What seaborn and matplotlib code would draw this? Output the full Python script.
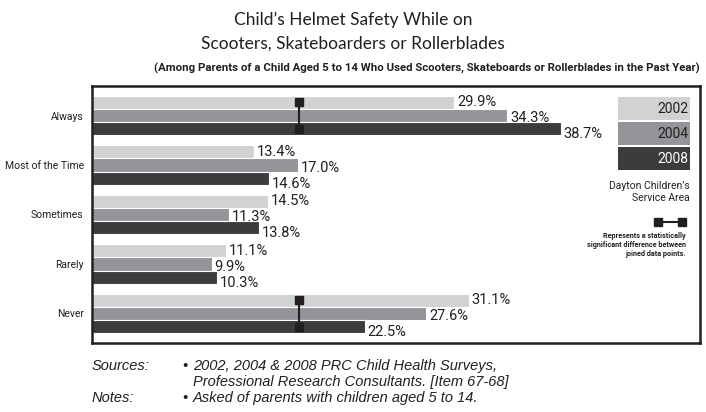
import matplotlib
matplotlib.use("Agg")
import matplotlib.pyplot as plt
from matplotlib.patches import Rectangle
import seaborn as sns
import pandas as pd

# Survey responses (% of parents)
categories = ["Always", "Most of the Time", "Sometimes", "Rarely", "Never"]
years = ["2002", "2004", "2008"]
values_2002 = [29.9, 13.4, 14.5, 11.1, 31.1]
values_2004 = [34.3, 17.0, 11.3, 9.9, 27.6]
values_2008 = [38.7, 14.6, 13.8, 10.3, 22.5]
# statistically significant differences: (category, year a, year b)
significant = [("Always", "2002", "2008"), ("Never", "2002", "2008")]
sig_marker_x = 17.1

colors = {"2002": "#d1d2d4", "2004": "#939598", "2008": "#3c3c3e"}
year_text_colors = {"2002": "#231f20", "2004": "#231f20", "2008": "white"}

rows = []
for yr, vals in zip(years, [values_2002, values_2004, values_2008]):
    for cat, v in zip(categories, vals):
        rows.append({"Category": cat, "Year": yr, "Value": v})
df = pd.DataFrame(rows)

sns.set_style("white")
plt.rcParams["font.family"] = ["Roboto", "DejaVu Sans"]
INK = "#231f20"

W, H = 706, 412
fig = plt.figure(figsize=(W / 100, H / 100), dpi=100)


def fx(px):
    return px / W


def fy(py):
    return 1 - py / H


ax = fig.add_axes([fx(92), fy(343), fx(700) - fx(92), fy(86) - fy(343)])

sns.barplot(data=df, x="Value", y="Category", hue="Year", order=categories,
            hue_order=years, palette=colors, orient="h", width=0.8,
            edgecolor="white", linewidth=0.8, saturation=1, ax=ax, legend=False)

ax.set_xlim(0, 50.2)
ax.set_ylim(4.6, -0.6)
ax.set_xlabel("")
ax.set_ylabel("")
ax.set_xticks([])
ax.tick_params(axis="y", length=0, pad=6)
for lbl in ax.get_yticklabels():
    lbl.set_fontsize(7.5)
    lbl.set_color(INK)
for sp in ax.spines.values():
    sp.set_visible(True)
    sp.set_color(INK)
    sp.set_linewidth(1.8)

# value labels
down = {"2002": 0, "2004": -2, "2008": -4}
bar_y = {}
for yr, cont in zip(years, ax.containers):
    for cat, bar in zip(categories, cont):
        v = bar.get_width()
        yc = bar.get_y() + bar.get_height() / 2
        bar_y[(cat, yr)] = yc
        ax.annotate(f"{v:.1f}%", (v, yc), xytext=(2, down[yr]),
                    textcoords="offset points", va="center", ha="left",
                    fontsize=10.5, color=INK)

# significance connectors
for cat, a, b in significant:
    ya, yb = bar_y[(cat, a)], bar_y[(cat, b)]
    ax.plot([sig_marker_x, sig_marker_x], [ya, yb], color=INK, lw=1.5,
            marker="s", markersize=6, zorder=5)

# legend boxes
box_tops = [97, 122, 147]
for yr, top in zip(years, box_tops):
    fig.patches.append(Rectangle((fx(618), fy(top + 23)), fx(690) - fx(618),
                                 fy(top) - fy(top + 23), transform=fig.transFigure,
                                 facecolor=colors[yr], edgecolor="none"))
    fig.text(fx(688), fy(top + 12), yr, ha="right", va="center",
             fontsize=10, color=year_text_colors[yr])

fig.text(fx(690), fy(186), "Dayton Children\u2019s", ha="right", va="center",
         fontsize=7.5, color=INK)
fig.text(fx(690), fy(198), "Service Area", ha="right", va="center",
         fontsize=7.5, color=INK)

# significance key
fig.lines.append(plt.Line2D([fx(658), fx(682)], [fy(222), fy(222)],
                            transform=fig.transFigure, color=INK, lw=1.5,
                            marker="s", markersize=6))
for i, line in enumerate(["Represents a statistically",
                          "significant difference between",
                          "joined data points."]):
    fig.text(fx(686), fy(236 + i * 9), line, ha="right", va="center",
             fontsize=5.2, fontweight="bold", color=INK)

# titles
title_font = dict(fontsize=12.5, family=["Lato", "DejaVu Sans"],
                  color=INK, ha="center", va="center")
fig.text(0.5, fy(20), "Child\u2019s Helmet Safety While on", **title_font)
fig.text(0.5, fy(44), "Scooters, Skateboarders or Rollerblades", **title_font)
fig.text(fx(427), fy(68), "(Among Parents of a Child Aged 5 to 14 Who Used Scooters, "
         "Skateboards or Rollerblades in the Past Year)", ha="center",
         va="center", fontsize=8.2, fontweight="bold", color=INK)

# footnotes
foot = dict(fontsize=10.5, style="italic", color=INK,
            family=["Liberation Sans", "DejaVu Sans"], va="center", ha="left")
fig.text(fx(92), fy(366), "Sources:", **foot)
fig.text(fx(182), fy(366), "\u2022", **foot)
fig.text(fx(193), fy(366), "2002, 2004 & 2008 PRC Child Health Surveys,", **foot)
fig.text(fx(193), fy(382), "Professional Research Consultants. [Item 67-68]", **foot)
fig.text(fx(92), fy(398), "Notes:", **foot)
fig.text(fx(182), fy(398), "\u2022", **foot)
fig.text(fx(193), fy(398), "Asked of parents with children aged 5 to 14.", **foot)

fig.savefig("out.png", dpi=100)
